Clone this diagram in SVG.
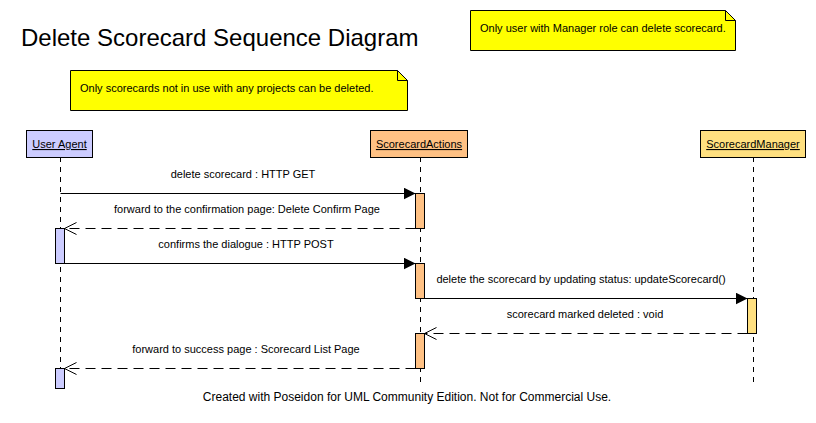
<svg xmlns="http://www.w3.org/2000/svg" width="816" height="423" viewBox="0 0 816 423">
<style>
text{font-family:"Liberation Sans",Arial,sans-serif;fill:#000}
.t{font-size:24px}
.s{font-size:11px}
.f{font-size:12px}
.c{text-anchor:middle}
.u{text-decoration:underline}
.note{fill:#ffff00;stroke:#000;stroke-width:1}
.head{stroke:#000;stroke-width:1}
.life{stroke:#000;stroke-width:1;stroke-dasharray:5,5;fill:none}
.act{stroke:#000;stroke-width:1}
.msg{stroke:#000;stroke-width:1;fill:none}
.ret{stroke:#000;stroke-width:1;fill:none;stroke-dasharray:10,6}
</style>
<defs>
<marker id="fill" markerWidth="12" markerHeight="12" refX="12" refY="6" orient="auto" markerUnits="userSpaceOnUse"><path d="M0,0 L12,6 L0,12 Z" fill="#000"/></marker>
<marker id="open" markerWidth="14" markerHeight="14" refX="12" refY="6" orient="auto" markerUnits="userSpaceOnUse"><path d="M0,0 L12,6 L0,12" fill="none" stroke="#000"/></marker>
</defs>
<rect width="816" height="423" fill="#fff"/>
<text class="t" x="21" y="46">Delete Scorecard Sequence Diagram</text>
<g id="note1"><path class="note" d="M70.5,70.5 H397.5 L407.5,80.5 V110.5 H70.5 Z"/><path d="M397.5,70.5 V80.5 H407.5" fill="none" stroke="#000"/><text class="s" x="80" y="92">Only scorecards not in use with any projects can be deleted.</text></g>
<g id="note2"><path class="note" d="M470.5,10.5 H725.5 L735.5,20.5 V50.5 H470.5 Z"/><path d="M725.5,10.5 V20.5 H735.5" fill="none" stroke="#000"/><text class="s" x="480" y="32">Only user with Manager role can delete scorecard.</text></g>
<g id="userAgent">
<path class="life" d="M60.5,157 V385"/>
<rect class="head" x="26.5" y="130.5" width="66" height="27" fill="#ccccff"/>
<text class="s c u" x="59.5" y="148">User Agent</text>
<rect class="act" x="55.5" y="228.5" width="9" height="35" fill="#ccccff"/>
<rect class="act" x="55.5" y="368.5" width="9" height="20" fill="#ccccff"/>
</g>
<g id="scorecardActions">
<path class="life" d="M420.5,157 V385"/>
<rect class="head" x="370.5" y="130.5" width="97" height="27" fill="#ffc184"/>
<text class="s c u" x="419" y="148">ScorecardActions</text>
<rect class="act" x="415.5" y="193.5" width="9" height="35" fill="#ffc184"/>
<rect class="act" x="415.5" y="263.5" width="9" height="35" fill="#ffc184"/>
<rect class="act" x="415.5" y="333.5" width="9" height="35" fill="#ffc184"/>
</g>
<g id="scorecardManager">
<path class="life" d="M753.5,157 V385"/>
<rect class="head" x="700.5" y="130.5" width="105" height="27" fill="#ffe080"/>
<text class="s c u" x="753" y="148">ScorecardManager</text>
<rect class="act" x="747.5" y="298.5" width="9" height="35" fill="#ffe080"/>
</g>
<g id="connectors">
<path class="msg" d="M60.5,193.5 H415.5" marker-end="url(#fill)"/>
<text class="s c" x="243" y="178">delete scorecard : HTTP GET</text>
<path class="ret" d="M415.5,228.5 H64.5" marker-end="url(#open)"/>
<text class="s c" x="247" y="213">forward to the confirmation page: Delete Confirm Page</text>
<path class="msg" d="M64.5,263.5 H415.5" marker-end="url(#fill)"/>
<text class="s c" x="246" y="248">confirms the dialogue : HTTP POST</text>
<path class="msg" d="M424.5,298.5 H747.5" marker-end="url(#fill)"/>
<text class="s c" x="581" y="283">delete the scorecard by updating status: updateScorecard()</text>
<path class="ret" d="M747.5,333.5 H424.5" marker-end="url(#open)"/>
<text class="s c" x="585" y="318">scorecard marked deleted : void</text>
<path class="ret" d="M415.5,368.5 H64.5" marker-end="url(#open)"/>
<text class="s c" x="246" y="353">forward to success page : Scorecard List Page</text>
</g>
<text class="f c" x="407" y="401">Created with Poseidon for UML Community Edition. Not for Commercial Use.</text>
</svg>
